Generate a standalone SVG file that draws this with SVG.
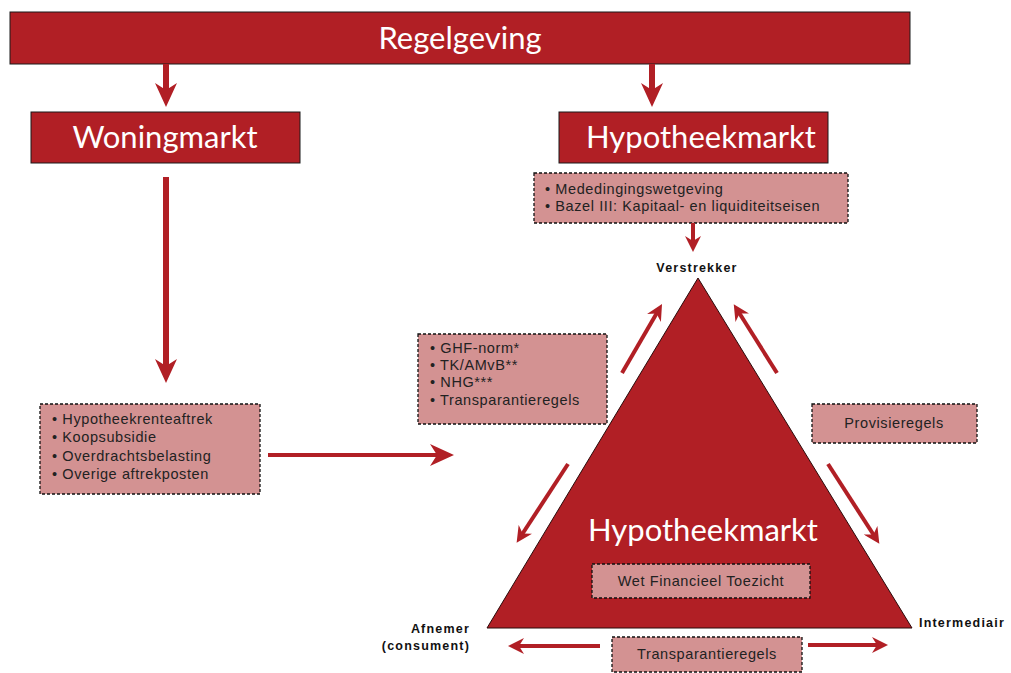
<svg xmlns="http://www.w3.org/2000/svg" width="1011" height="673" viewBox="0 0 1011 673">
<style>
.hdr{fill:#B11F25;stroke:#1a1a1a;stroke-width:1}
.ttl{fill:#fff;font-family:Lato,"Open Sans",sans-serif;font-size:31px;text-anchor:middle}
.box{fill:#D39292;stroke:#111;stroke-width:1.3;stroke-dasharray:3 2}
.t{fill:#222;font-family:"Liberation Sans",Arial,sans-serif;font-size:14.5px;letter-spacing:0.6px}
.lbl{fill:#111;font-family:"Liberation Sans",Arial,sans-serif;font-size:12.5px;font-weight:bold;letter-spacing:1.2px}
.big{stroke:#B11F25;stroke-width:6;fill:none}
.mid{stroke:#B11F25;stroke-width:4;fill:none}
</style>
<defs>
<marker id="ah" markerUnits="userSpaceOnUse" markerWidth="24" markerHeight="24" viewBox="0 0 24 24" refX="12" refY="12" orient="auto">
<path d="M0,1 L24,12 L0,23 L7,12 Z" fill="#B11F25"/>
</marker>
<marker id="as" markerUnits="userSpaceOnUse" markerWidth="16" markerHeight="16" viewBox="0 0 16 16" refX="8" refY="8" orient="auto">
<path d="M0,0 L16,8 L0,16 L5,8 Z" fill="#B11F25"/>
</marker>
</defs>
<rect width="1011" height="673" fill="#fff"/>

<g id="regelgeving">
<rect class="hdr" x="10" y="12" width="900" height="52"/>
<text class="ttl" x="460" y="49">Regelgeving</text>
</g>
<g id="woningmarkt">
<rect class="hdr" x="31" y="112" width="269" height="51"/>
<text class="ttl" x="165" y="148">Woningmarkt</text>
</g>
<g id="hypotheekmarkt-title">
<rect class="hdr" x="559" y="112" width="269" height="51"/>
<text class="ttl" x="701" y="148">Hypotheekmarkt</text>
</g>
<g id="mededinging">
<rect class="box" x="534" y="173" width="314" height="50"/>
<text class="t" x="545" y="194">• Mededingingswetgeving</text>
<text class="t" x="545" y="211">• Bazel III: Kapitaal- en liquiditeitseisen</text>
</g>
<g id="triangle">
<polygon points="698,278 487,628 912,628" fill="#B11F25" stroke="#2a0a0a" stroke-width="1"/>
<text class="ttl" x="703" y="541">Hypotheekmarkt</text>
</g>
<g id="wft">
<rect class="box" x="592" y="564" width="218" height="34"/>
<text class="t" x="701" y="586" text-anchor="middle">Wet Financieel Toezicht</text>
</g>
<g id="ghf">
<rect class="box" x="418" y="334" width="189" height="90"/>
<text class="t" x="430" y="353">• GHF-norm*</text>
<text class="t" x="430" y="370">• TK/AMvB**</text>
<text class="t" x="430" y="387">• NHG***</text>
<text class="t" x="430" y="405">• Transparantieregels</text>
</g>
<g id="woning-regels">
<rect class="box" x="40" y="404" width="220" height="90"/>
<text class="t" x="52" y="424">• Hypotheekrenteaftrek</text>
<text class="t" x="52" y="442">• Koopsubsidie</text>
<text class="t" x="52" y="461">• Overdrachtsbelasting</text>
<text class="t" x="52" y="479">• Overige aftrekposten</text>
</g>
<g id="provisie">
<rect class="box" x="812" y="404" width="165" height="39"/>
<text class="t" x="894" y="428" text-anchor="middle">Provisieregels</text>
</g>
<g id="transparantie">
<rect class="box" x="612" y="637" width="190" height="35"/>
<text class="t" x="707" y="659" text-anchor="middle">Transparantieregels</text>
</g>
<g id="labels">
<text class="lbl" x="697" y="272" text-anchor="middle">Verstrekker</text>
<text class="lbl" x="470" y="633" text-anchor="end">Afnemer</text>
<text class="lbl" x="470" y="650" text-anchor="end">(consument)</text>
<text class="lbl" x="919" y="627">Intermediair</text>
</g>
<g id="connectors">
<line class="big" x1="166" y1="64" x2="166" y2="95" marker-end="url(#ah)"/>
<line class="big" x1="652" y1="64" x2="652" y2="95" marker-end="url(#ah)"/>
<line class="big" x1="166" y1="177" x2="166" y2="371" marker-end="url(#ah)"/>
<line class="mid" x1="268" y1="455" x2="442" y2="455" marker-end="url(#ah)"/>
<line class="mid" x1="693" y1="223" x2="693" y2="244" marker-end="url(#as)"/>
<line class="mid" x1="622" y1="373" x2="658" y2="311" marker-end="url(#as)"/>
<line class="mid" x1="777" y1="373" x2="738" y2="311" marker-end="url(#as)"/>
<line class="mid" x1="568" y1="464" x2="521" y2="536" marker-end="url(#as)"/>
<line class="mid" x1="828" y1="464" x2="875" y2="537" marker-end="url(#as)"/>
<line class="mid" x1="600" y1="646" x2="516" y2="646" marker-end="url(#as)"/>
<line class="mid" x1="808" y1="645" x2="880" y2="645" marker-end="url(#as)"/>
</g>
</svg>
